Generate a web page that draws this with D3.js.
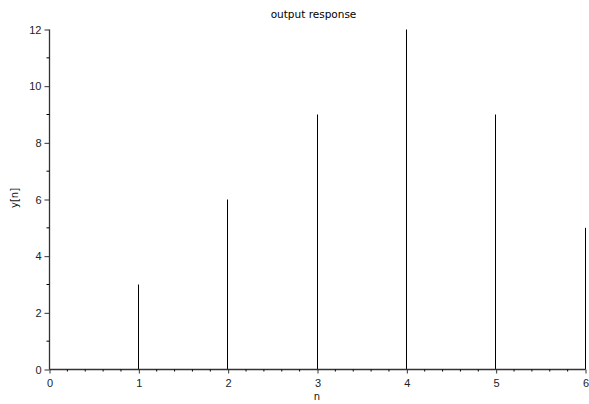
<!DOCTYPE html>
<html><head><meta charset="utf-8">
<script src="https://cdn.jsdelivr.net/npm/d3@7"></script>
<style>body{margin:0;background:#fff}svg{display:block}</style>
</head><body>
<script>
const nValues = [0, 1, 2, 3, 4, 5, 6];
const yValues = [0, 3, 6, 9, 12, 9, 5];
const xTicks = [0, 1, 2, 3, 4, 5, 6];
const yTicks = [0, 2, 4, 6, 8, 10, 12];
const titleText = "output response";
const xLabel = "n";
const yLabel = "y[n]";

const W = 589, H = 404;
const svg = d3.select("body").append("svg").attr("width", W).attr("height", H);
const x = d3.scaleLinear().domain([0, 6]).range([49.5, 585.5]);
const y = d3.scaleLinear().domain([0, 12]).range([369.5, 29.5]);

// stems
svg.append("g").selectAll("line").data(nValues.map((n, i) => ({n, v: yValues[i]})))
  .join("line")
  .attr("x1", d => Math.round(x(d.n)) - 0.5).attr("x2", d => Math.round(x(d.n)) - 0.5)
  .attr("y1", y(0)).attr("y2", d => y(d.v))
  .attr("stroke", "#000").attr("stroke-width", 1);

// minor ticks
const xMinor = d3.range(0, 6.0001, 0.2).filter(v => Math.abs(v - Math.round(v)) > 1e-6);
const yMinor = [1, 3, 5, 7, 9, 11];

const gx = svg.append("g").attr("transform", `translate(0,${y(0)})`)
  .call(d3.axisBottom(x).tickValues(xTicks).tickSize(4).tickPadding(6).tickFormat(d3.format("d")));
gx.append("g").selectAll("line").data(xMinor).join("line")
  .attr("x1", d => x(d)).attr("x2", d => x(d)).attr("y1", 0).attr("y2", 2).attr("stroke", "#000");

const gy = svg.append("g").attr("transform", `translate(${x(0)},0)`)
  .call(d3.axisLeft(y).tickValues(yTicks).tickSize(5).tickPadding(3).tickFormat(d3.format("d")));
gy.append("g").selectAll("line").data(yMinor).join("line")
  .attr("y1", d => y(d)).attr("y2", d => y(d)).attr("x1", 0).attr("x2", -3).attr("stroke", "#000");

[gx, gy].forEach(g => {
  g.select(".domain").attr("stroke", "#333").attr("stroke-width", 1.3);
  g.selectAll(".tick line").attr("stroke", "#333");
  g.selectAll("text").attr("font-family", "Liberation Sans, Arial, sans-serif").attr("font-size", 11).attr("fill", "#222");
});
gx.select(".domain").attr("d", `M${x(0)},0H${x(6)}`);
gy.select(".domain").attr("d", `M0,${y(0)}V${y(12)}`);

svg.append("text").attr("x", 313.5).attr("y", 18).attr("text-anchor", "middle")
  .attr("font-family", "DejaVu Sans, sans-serif").attr("font-size", 10.5).attr("font-weight", 500).attr("fill", "#000").text(titleText);
svg.append("text").attr("x", 317).attr("y", 400).attr("text-anchor", "middle")
  .attr("font-family", "DejaVu Sans, sans-serif").attr("font-size", 10).attr("fill", "#111").text(xLabel);
svg.append("text").attr("transform", "translate(18,198) rotate(-90)").attr("text-anchor", "middle")
  .attr("font-family", "DejaVu Sans, sans-serif").attr("font-size", 10).attr("fill", "#111").text(yLabel);
</script>
</body></html>
